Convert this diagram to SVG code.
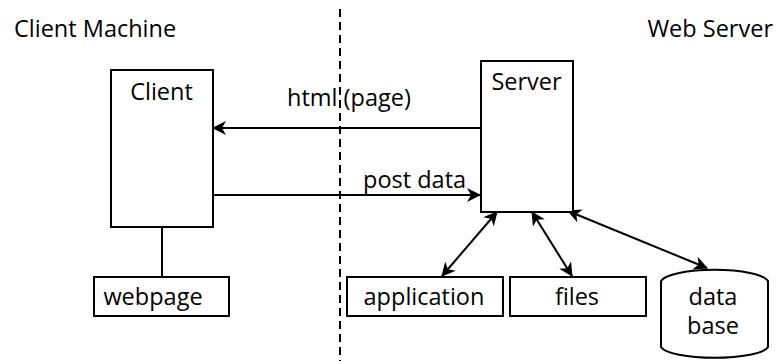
<svg xmlns="http://www.w3.org/2000/svg" width="776" height="361" viewBox="0 0 776 361">
  <style>
    text { font-family: "Open Sans", "Lato", sans-serif; font-size: 23.5px; fill: #000; }
    .box { fill: #fff; stroke: #000; stroke-width: 2; }
    .edge { fill: none; stroke: #000; stroke-width: 2; }
    .mid { text-anchor: middle; }
  </style>
  <defs>
    <marker id="head" viewBox="0 0 14 14" refX="13" refY="7" markerWidth="14" markerHeight="14" markerUnits="userSpaceOnUse" orient="auto-start-reverse">
      <path d="M0,0 L14,7 L0,14 L4,7 Z" fill="#000"/>
    </marker>
  </defs>
  <rect width="776" height="361" fill="#fff"/>

  <!-- region headings and separator -->
  <text x="14" y="37">Client Machine</text>
  <text x="773" y="37" text-anchor="end">Web Server</text>
  <line x1="340" y1="9" x2="340" y2="361" stroke="#000" stroke-width="2" stroke-dasharray="8,5"/>

  <!-- connectors -->
  <g id="connectors">
    <line class="edge" x1="481" y1="128" x2="213" y2="128" marker-end="url(#head)"/>
    <text x="287" y="106">html (page)</text>
    <line class="edge" x1="212" y1="195" x2="480" y2="195" marker-end="url(#head)"/>
    <text x="363" y="188">post data</text>
    <line class="edge" x1="162" y1="227" x2="162" y2="277"/>
    <line class="edge" x1="442" y1="276" x2="497" y2="212" marker-start="url(#head)" marker-end="url(#head)"/>
    <line class="edge" x1="532" y1="212" x2="572" y2="276" marker-start="url(#head)" marker-end="url(#head)"/>
    <line class="edge" x1="568" y1="211" x2="707" y2="268" marker-start="url(#head)" marker-end="url(#head)"/>
  </g>

  <g id="client">
    <rect class="box" x="111" y="70" width="102" height="157"/>
    <text x="161.5" y="100" class="mid">Client</text>
  </g>

  <g id="server">
    <rect class="box" x="481" y="61" width="92" height="151"/>
    <text x="526.5" y="90" class="mid">Server</text>
  </g>

  <g id="webpage">
    <rect class="box" x="94" y="277" width="135" height="39"/>
    <text x="153" y="305" class="mid">webpage</text>
  </g>

  <g id="application">
    <rect class="box" x="347" y="277" width="156" height="39"/>
    <text x="424" y="305" class="mid">application</text>
  </g>

  <g id="files">
    <rect class="box" x="510" y="277" width="136" height="39"/>
    <text x="577" y="305" class="mid">files</text>
  </g>

  <g id="database">
    <path class="box" d="M661,281 A54,13 0 0 1 768,281 L768,347 A54,12.5 0 0 1 661,347 Z"/>
    <text x="713" y="305" class="mid">data</text>
    <text x="713" y="334" class="mid">base</text>
  </g>
</svg>
